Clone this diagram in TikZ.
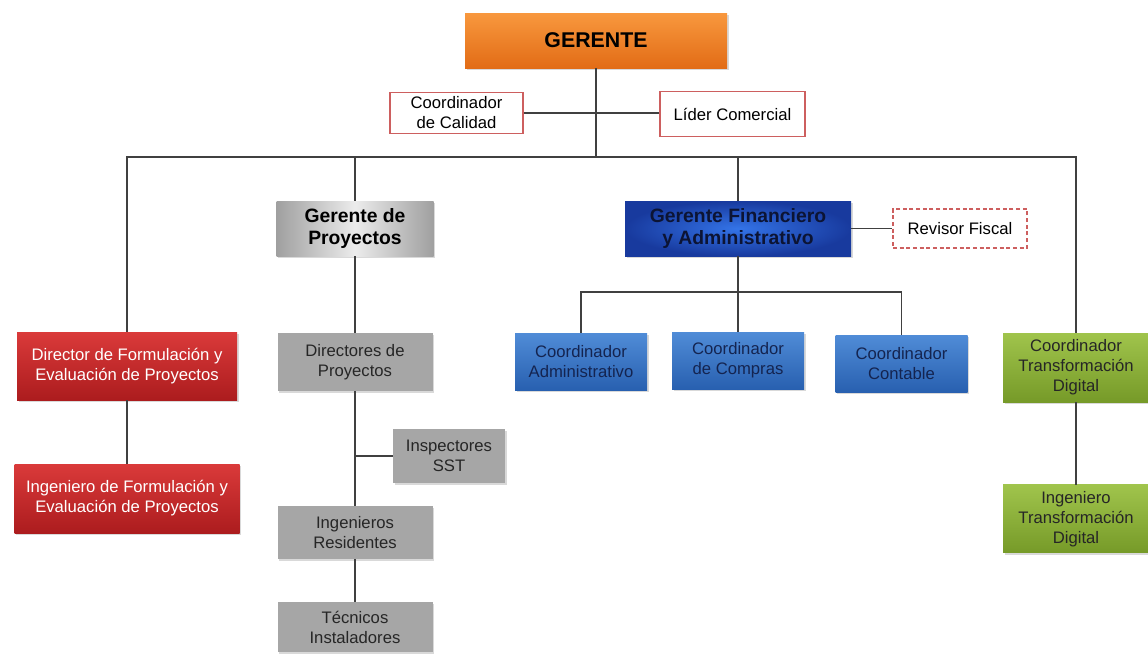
\documentclass[tikz,border=0pt]{standalone}
\usepackage{fontspec}
\setmainfont{Liberation Sans}
\usepackage{tikz}
\usetikzlibrary{positioning,shadows}

\definecolor{orangetop}{RGB}{248,152,62}
\definecolor{orangebot}{RGB}{226,108,22}
\definecolor{redtop}{RGB}{218,58,58}
\definecolor{redbot}{RGB}{172,28,30}
\definecolor{bluein}{RGB}{52,116,232}
\definecolor{blueout}{RGB}{24,58,158}
\definecolor{coordtop}{RGB}{80,140,215}
\definecolor{coordbot}{RGB}{40,96,176}
\definecolor{greentop}{RGB}{160,196,76}
\definecolor{greenbot}{RGB}{118,154,40}
\definecolor{navytext}{RGB}{20,36,80}
\definecolor{darknavy}{RGB}{12,20,52}
\definecolor{linkred}{RGB}{205,95,95}

\begin{document}
\begin{tikzpicture}[x=0.75pt,y=-0.75pt,on grid,font=\fontsize{12.5}{15}\selectfont]
  \tikzstyle{box}=[rectangle,align=center,inner sep=2pt,
                   drop shadow={shadow xshift=1.2pt,shadow yshift=-1.2pt,opacity=.3}]
  \tikzstyle{headbox}=[box,font=\fontsize{14.5}{17}\selectfont\bfseries]
  \tikzstyle{redbox}=[box,top color=redtop,bottom color=redbot,text=white]
  \tikzstyle{graybox}=[box,fill=gray!70,text=black!85,minimum width=116.25pt]
  \tikzstyle{coordbox}=[box,top color=coordtop,bottom color=coordbot,text=navytext,
                        minimum width=99pt,minimum height=42.75pt]
  \tikzstyle{greenbox}=[box,top color=greentop,bottom color=greenbot,text=black!85,
                        minimum width=109.5pt]
  \tikzstyle{staffbox}=[rectangle,align=center,draw=linkred,fill=white,line width=0.8pt]
  \tikzstyle{link}=[draw=black!75,line width=0.9pt]

  \useasboundingbox (0,0) rectangle (1148,653);

  \node[headbox,top color=orangetop,bottom color=orangebot,font=\fontsize{16}{19}\selectfont\bfseries,
        minimum width=196.5pt,minimum height=41.25pt] (gerente) at (596,40.5) {GERENTE};
  \node[staffbox,minimum width=99.75pt,minimum height=30.75pt] (calidad) at (456.5,113) {Coordinador\\de Calidad};
  \node[staffbox,minimum width=108.75pt,minimum height=33.75pt] (lider) at (732.5,114) {Líder Comercial};
  \coordinate (bar) at (596,157);

  % segundo nivel
  \node[headbox,left color=gray!75,right color=gray!75,middle color=gray!15,
        minimum width=117.75pt,minimum height=41.25pt] (gproy) at (355,228.5) {Gerente de\\Proyectos};
  \node[headbox,shading=radial,inner color=bluein,outer color=blueout,text=darknavy,
        minimum width=169.5pt,minimum height=41.25pt] (gfin) at (738,228.5) {Gerente Financiero\\y Administrativo};
  \node[staffbox,dash pattern=on 3pt off 2pt,minimum width=100.5pt,minimum height=29.25pt]
        (revisor) [right=166.5pt of gfin] {Revisor Fiscal};

  % formulacion
  \node[redbox,minimum width=165pt,minimum height=51pt] (director) at (127,366) {Director de Formulación y\\Evaluación de Proyectos};
  \node[redbox,minimum width=168.75pt,minimum height=51.75pt] (ingform) [below=99.4pt of director] {Ingeniero de Formulación y\\Evaluación de Proyectos};

  % proyectos
  \node[graybox,minimum height=43.5pt] (directores) [below=100.1pt of gproy] {Directores de\\Proyectos};
  \node[graybox,minimum height=39.75pt] (residentes) [below=127.9pt of directores] {Ingenieros\\Residentes};
  \node[graybox,minimum height=37.5pt] (tecnicos) [below=70.9pt of residentes] {Técnicos\\Instaladores};
  \node[graybox,minimum width=84pt,minimum height=40.5pt] (inspectores) at (449,456) {Inspectores\\SST};

  % financiero
  \node[coordbox] (coordadm) at (581,361.5) {Coordinador\\Administrativo};
  \node[coordbox] (coordcomp) [below=99pt of gfin] {Coordinador\\de Compras};
  \node[coordbox] (coordcont) at (901.5,363.5) {Coordinador\\Contable};
  \coordinate (sub) at (738,292);

  % transformacion digital
  \node[greenbox,minimum height=51.75pt] (coordtd) at (1076,367.5) {Coordinador\\Transformación\\Digital};
  \node[greenbox,minimum height=51pt] (ingtd) [below=113.6pt of coordtd] {Ingeniero\\Transformación\\Digital};

  \path[link] (gerente) -- (bar);
  \path[link] (calidad.east) -- (calidad.east -| lider.west);
  \path[link] (director.north) -- (director.north |- bar) -- (coordtd.north |- bar) -- (coordtd.north);
  \path[link] (gproy.north) -- (gproy.north |- bar);
  \path[link] (gfin.north) -- (gfin.north |- bar);
  \path[link] (gfin.east) -- (revisor.west);
  \path[link] (director) -- (ingform);
  \path[link] (gproy) -- (directores);
  \path[link] (directores) -- (residentes);
  \path[link] (residentes) -- (tecnicos);
  \path[link] (inspectores.west) -- (inspectores.west -| directores);
  \path[link] (gfin) -- (coordcomp);
  \path[link] (coordadm.north) -- (coordadm.north |- sub) -- (coordcont.north |- sub) -- (coordcont.north);
  \path[link] (coordtd) -- (ingtd);
\end{tikzpicture}
\end{document}
